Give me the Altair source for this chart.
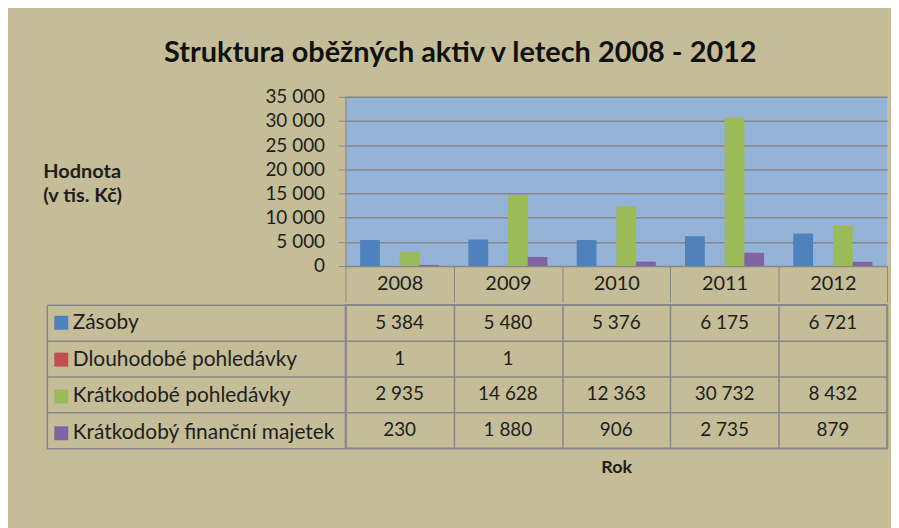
import altair as alt
import pandas as pd

# ---- data ----
years = ["2008", "2009", "2010", "2011", "2012"]
series = ["Zásoby", "Dlouhodobé pohledávky", "Krátkodobé pohledávky", "Krátkodobý finanční majetek"]
zasoby = [5384, 5480, 5376, 6175, 6721]
dlouhodobe = [1, 1, None, None, None]
kratkodobe = [2935, 14628, 12363, 30732, 8432]
financni = [230, 1880, 906, 2735, 879]
colors = ["#4F81BD", "#C0504D", "#9BBB59", "#8064A2"]
y_ticks = [0, 5000, 10000, 15000, 20000, 25000, 30000, 35000]

rows = []
for s, vals in zip(series, [zasoby, dlouhodobe, kratkodobe, financni]):
    for yr, v in zip(years, vals):
        rows.append({
            "rok": yr,
            "serie": s,
            "hodnota": v,
            "text": "" if v is None else f"{v:,}".replace(",", "\u00a0"),
        })
df = pd.DataFrame(rows)

FONT = "Lato"
GRID = "#878787"
TXT = "#1e1e1e"

# ---- bar chart ----
bars = alt.Chart(df).mark_bar().encode(
    x=alt.X("rok:N", sort=years,
            scale=alt.Scale(paddingInner=0, paddingOuter=0),
            axis=alt.Axis(title=None, tickBand="extent", tickSize=36, tickColor=GRID,
                          domainColor=GRID, labelFontSize=20, labelFont=FONT,
                          labelColor=TXT, labelPadding=-28, labelAngle=0, grid=False)),
    xOffset=alt.XOffset("serie:N", sort=series,
                        scale=alt.Scale(paddingInner=0, paddingOuter=0.74)),
    y=alt.Y("hodnota:Q",
            scale=alt.Scale(domain=[0, 35000], nice=False),
            axis=alt.Axis(values=y_ticks,
                          labelExpr="replace(datum.label, ',', '\u00a0')",
                          labelFontSize=19, labelFont=FONT, labelColor=TXT,
                          labelPadding=14, tickSize=7, tickColor=GRID,
                          domainColor=GRID, grid=True, gridColor=GRID, gridWidth=1.5,
                          title=["Hodnota", "(v tis. Kč)"], titleAngle=0,
                          titleAlign="left", titleBaseline="top",
                          titleX=-304, titleY=65, titleFont=FONT, titleFontSize=20,
                          titleFontWeight="bold", titleColor=TXT, titleLineHeight=24)),
    color=alt.Color("serie:N", sort=series,
                    scale=alt.Scale(domain=series, range=colors), legend=None),
).properties(width=544, height=170,
             view=alt.ViewBackground(fill="#95B3D7", stroke=None))

# ---- data table ----
y_row = alt.Y("serie:N", sort=series, scale=alt.Scale(paddingInner=0, paddingOuter=0),
              axis=alt.Axis(title=None, labels=False, tickBand="extent", tickSize=300,
                            tickColor=GRID, tickWidth=1.5, grid=True, gridColor=GRID,
                            gridWidth=1.5, domainColor=GRID, domainWidth=1.5))

cells = alt.Chart(df).mark_text(fontSize=19, font=FONT, color=TXT).encode(
    x=alt.X("rok:N", sort=years, scale=alt.Scale(paddingInner=0, paddingOuter=0),
            axis=alt.Axis(title="Rok", labels=False, ticks=False, domain=False,
                          grid=True, gridColor=GRID, gridWidth=1.5, tickBand="extent",
                          titleFont=FONT, titleFontSize=18, titleFontWeight="bold",
                          titleColor=TXT, titlePadding=10)),
    y=y_row,
    text="text:N",
)

keys = alt.Chart(df).mark_square(opacity=0).encode(
    y=alt.Y("serie:N", sort=series, scale=alt.Scale(paddingInner=0, paddingOuter=0),
            axis=alt.Axis(orient="left", offset=300, title=None, labels=False,
                          ticks=False, grid=False, domainColor=GRID, domainWidth=1.5)),
    color=alt.Color("serie:N", sort=series,
                    scale=alt.Scale(domain=series, range=colors),
                    legend=alt.Legend(orient="none", legendX=-296, legendY=7.5,
                                      title=None, symbolType="square", symbolSize=196,
                                      symbolOpacity=1, symbolStrokeWidth=0,
                                      labelFont=FONT, labelFontSize=21, labelColor=TXT,
                                      labelLimit=0, labelOffset=1, rowPadding=15,
                                      padding=0)),
)

table = alt.layer(cells, keys).resolve_scale(y="independent").properties(
    width=544, height=144,
    view=alt.ViewBackground(fill=None, stroke=GRID, strokeWidth=1.5))

chart = alt.vconcat(bars, table, spacing=0).resolve_scale(
    color="independent"
).properties(
    title=alt.TitleParams("Struktura oběžných aktiv v letech 2008 - 2012",
                          font=FONT, fontSize=29, fontWeight="bold", color="#111111",
                          anchor="middle", dx=-5, offset=20),
    padding={"left": 35, "top": 30, "right": 3, "bottom": 58},
).configure(background="#C4BD97")

chart.save("out.html", embed_options={"renderer": "svg", "actions": False})
